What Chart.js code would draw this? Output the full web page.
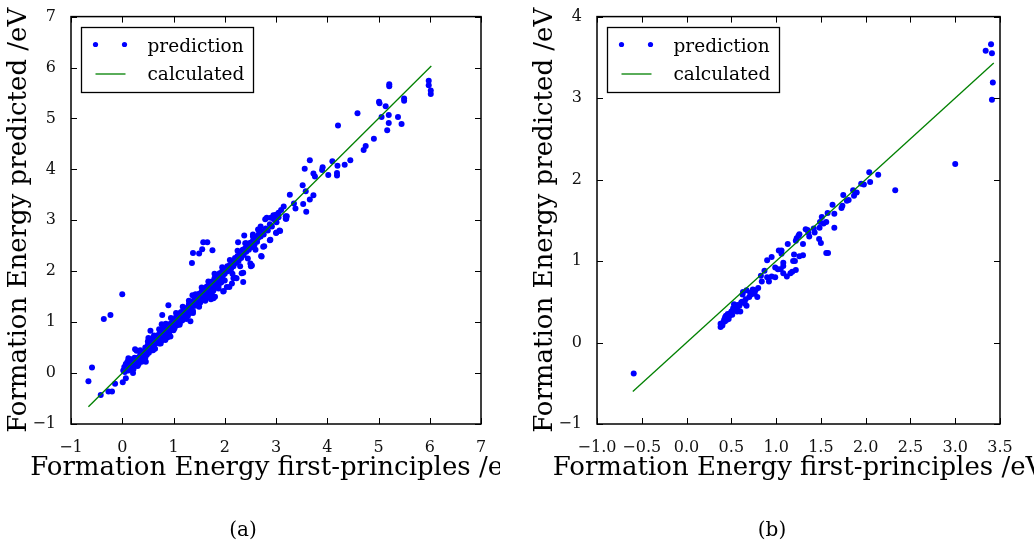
<!DOCTYPE html>
<html>
<head>
<meta charset="utf-8">
<script src="https://cdn.jsdelivr.net/npm/chart.js@4.4.0/dist/chart.umd.min.js"></script>
<style>
  html, body { margin: 0; padding: 0; background: #fff; }
  #wrap { position: relative; width: 1034px; height: 546px; overflow: hidden; }
  canvas { position: absolute; top: 0; }
  #cA { left: 0; width: 500px; height: 546px; }
  #cB { left: 520px; width: 514px; height: 546px; }
  .cap { position: absolute; top: 517px; width: 60px; text-align: center;
         font: 20px "DejaVu Serif", serif; color: #000; }
</style>
</head>
<body>
<div id="wrap">
  <canvas id="cA" width="500" height="546"></canvas>
  <canvas id="cB" width="514" height="546"></canvas>
  <div class="cap" style="left:213px">(a)</div>
  <div class="cap" style="left:742px">(b)</div>
</div>
<script>
const FONT = '"DejaVu Serif", serif';

// (a) first-principles vs predicted, whole set
const xA = [
  0.02, 0.04, 0.05, 0.07, 0.08, 0.10, 0.10, 0.12, 0.13, 0.15,
  0.16, 0.18, 0.20, 0.20, 0.22, 0.24, 0.25, 0.27, 0.28, 0.30,
  0.30, 0.32, 0.35, 0.36, 0.38, 0.40, 0.41, 0.43, 0.45, 0.46,
  0.48, 0.50, 0.50, 0.52, 0.55, 0.56, 0.58, 0.60, 0.60, 0.62,
  0.64, 0.65, 0.67, 0.70, 0.70, 0.72, 0.74, 0.75, 0.77, 0.80,
  0.80, 0.82, 0.84, 0.85, 0.87, 0.90, 0.90, 0.92, 0.94, 0.95,
  0.97, 1.00, 1.00, 1.02, 1.05, 1.05, 1.07, 1.10, 1.10, 1.12,
  1.15, 1.15, 1.17, 1.20, 1.20, 1.22, 1.25, 1.26, 1.28, 1.30,
  1.30, 1.32, 1.35, 1.36, 1.38, 1.40, 1.40, 1.42, 1.45, 1.46,
  1.48, 1.50, 1.50, 1.52, 1.55, 1.56, 1.58, 1.60, 1.61, 1.63,
  1.65, 1.66, 1.68, 1.70, 1.71, 1.73, 1.75, 1.76, 1.78, 1.80,
  1.81, 1.83, 1.85, 1.86, 1.88, 1.90, 1.91, 1.93, 1.95, 1.96,
  2.00, 2.00, 2.05, 2.06, 2.10, 2.12, 2.15, 2.17, 2.20, 2.22,
  2.25, 2.27, 2.30, 2.32, 2.35, 2.37, 2.40, 2.42, 2.45, 2.47,
  2.50, 2.52, 2.55, 2.58, 2.60, 2.63, 2.66, 2.70, 2.73, 2.76,
  2.80, 2.84, 2.88, 2.92, 2.96, 3.00, 3.05, 2.42, 2.55, 2.65,
  2.70, 2.90, 2.95, 3.05, 3.10, 2.38, 2.26, 2.79, 2.82, 3.00,
  3.15, 3.01, 3.21, 1.91, 1.37, 1.13, 0.77, 0.55, 0.51, 0.25,
  0.12, 0.15, 0.29, 2.17, 2.09, 1.78, 1.97, 2.14, 2.33, 2.53,
  2.36, 2.20, 2.72, 2.75, 2.88, 3.01, 3.08, 3.19, 3.19, 1.73,
  1.81, 1.98, 2.04, 2.23, 2.36, 2.50, 2.51, 2.77, 2.71, 2.89,
  3.00, 3.07, 3.20, 3.38, 3.27, 3.35, 3.59, 3.53, 3.66, 3.73,
  3.58, 3.52, 3.56, 3.66, 3.73, 3.76, 3.90, 3.91, 4.02, 4.19,
  4.19, 4.20, 4.10, 4.34, 4.45, 4.71, 4.75, 4.91, 4.21, 4.59,
  5.01, 5.02, 5.21, 5.21, 5.14, 5.06, 5.20, 5.20, 5.17, 5.38,
  5.45, 5.50, 5.50, 5.98, 5.98, 6.02, 6.02, 1.33, 0.90, 0.78,
  1.36, 1.38, 1.50, 1.56, 1.58, 1.66, 1.76, -0.66, -0.59, -0.36,
  -0.23, 0.00, -0.42, -0.27, -0.20, -0.14, 0.01, 0.07, 0.21, 0.46,
  0.35, 0.50, 0.62, 0.72, 0.85, 0.95, 1.05, 1.18, 1.30, 1.43,
  1.55, 1.68, 1.80, 1.95, 2.10, 2.25, 2.40, 2.55, 0.30, 0.45,
  0.60, 0.75, 0.88, 1.00, 1.12, 1.25, 1.38, 1.50, 1.62, 1.75,
  1.88, 2.00, 2.15, 2.30, 2.45, 2.60, 0.60, 1.45, 2.20, 2.65
];
const yA = [
  0.05, 0.12, 0.02, 0.18, 0.08, 0.22, 0.12, 0.05, 0.26, 0.18,
  0.10, 0.27, 0.22, 0.14, 0.08, 0.30, 0.20, 0.15, 0.44, 0.30,
  0.24, 0.18, 0.36, 0.28, 0.22, 0.42, 0.35, 0.28, 0.50, 0.42,
  0.36, 0.55, 0.46, 0.40, 0.60, 0.50, 0.45, 0.70, 0.62, 0.54,
  0.48, 0.68, 0.60, 0.75, 0.66, 0.58, 0.82, 0.71, 0.64, 0.90,
  0.78, 0.70, 0.65, 0.85, 0.78, 0.95, 0.86, 0.80, 0.72, 0.98,
  0.90, 1.05, 0.96, 0.88, 1.10, 1.00, 0.94, 1.15, 1.06, 0.98,
  1.20, 1.10, 1.03, 1.25, 1.16, 1.08, 1.28, 1.20, 1.12, 1.35,
  1.25, 1.18, 1.40, 1.30, 1.22, 1.50, 1.40, 1.32, 1.50, 1.40,
  1.34, 1.56, 1.46, 1.38, 1.60, 1.50, 1.44, 1.66, 1.56, 1.48,
  1.70, 1.60, 1.52, 1.76, 1.66, 1.58, 1.80, 1.70, 1.62, 1.86,
  1.76, 1.68, 1.90, 1.80, 1.72, 1.96, 1.86, 1.78, 2.00, 1.90,
  2.05, 1.95, 2.10, 2.00, 2.12, 2.04, 2.20, 2.10, 2.26, 2.16,
  2.30, 2.20, 2.34, 2.26, 2.42, 2.32, 2.45, 2.38, 2.50, 2.42,
  2.56, 2.47, 2.60, 2.52, 2.66, 2.58, 2.72, 2.68, 2.78, 2.72,
  2.84, 2.80, 2.92, 2.88, 3.02, 3.00, 3.06, 2.55, 2.72, 2.82,
  2.88, 3.05, 3.10, 3.15, 3.20, 2.70, 2.57, 3.02, 3.05, 3.11,
  3.27, 2.96, 3.08, 1.86, 1.53, 1.18, 0.96, 0.83, 0.69, 0.47,
  0.29, 0.11, 0.24, 1.86, 1.69, 1.47, 1.60, 1.76, 1.96, 2.11,
  1.79, 1.87, 2.29, 2.48, 2.61, 2.76, 2.79, 3.03, 3.08, 1.45,
  1.50, 1.61, 1.69, 1.86, 1.97, 2.15, 2.10, 2.49, 2.30, 2.62,
  2.75, 2.80, 3.03, 3.23, 3.50, 3.33, 3.17, 3.32, 3.41, 3.49,
  3.57, 3.69, 4.01, 4.18, 3.92, 3.86, 3.99, 4.04, 3.89, 3.88,
  3.93, 4.07, 4.16, 4.09, 4.18, 4.38, 4.46, 4.60, 4.86, 5.10,
  5.33, 5.30, 5.67, 5.63, 5.24, 5.03, 5.07, 4.91, 4.77, 5.03,
  4.89, 5.39, 5.35, 5.74, 5.65, 5.55, 5.48, 1.02, 1.33, 1.14,
  2.16, 2.36, 2.35, 2.43, 2.57, 2.57, 2.41, -0.16, 0.11, 1.06,
  1.14, 1.55, -0.43, -0.36, -0.36, -0.21, -0.18, -0.10, 0.00, 0.22,
  0.45, 0.62, 0.74, 0.86, 0.97, 1.08, 1.18, 1.30, 1.42, 1.55,
  1.68, 1.80, 1.95, 2.08, 2.22, 2.40, 2.55, 2.68, 0.14, 0.30,
  0.45, 0.58, 0.70, 0.84, 0.95, 1.06, 1.18, 1.30, 1.42, 1.55,
  1.66, 1.82, 1.95, 2.10, 2.25, 2.42, 0.58, 1.45, 2.20, 2.65
];
const fitA = [-0.66, 6.03];

// (b) test set
const xB = [
  -0.59, 3.00, 2.33, 3.34, 3.40, 3.41, 3.42, 3.41, 2.04, 2.05,
  2.14, 1.95, 1.98, 1.90, 1.87, 1.86, 1.81, 1.79, 1.75, 1.74,
  1.73, 1.65, 1.63, 1.65, 1.575, 1.56, 1.53, 1.51, 1.485, 1.49,
  1.48, 1.50, 1.56, 1.58, 1.43, 1.42, 1.37, 1.36, 1.35, 1.33,
  1.26, 1.25, 1.30, 1.23, 1.22, 1.30, 1.26, 1.13, 1.20, 1.21,
  1.19, 1.22, 1.18, 1.16, 1.12, 1.08, 1.08, 1.06, 1.06, 1.03,
  1.05, 1.08, 1.02, 0.99, 0.99, 0.95, 0.90, 0.95, 0.92, 0.90,
  0.87, 0.83, 0.84, 0.80, 0.79, 0.77, 0.74, 0.70, 0.71, 0.67,
  0.63, 0.625, 0.66, 0.67, 0.65, 0.61, 0.60, 0.565, 0.54, 0.53,
  0.50, 0.48, 0.46, 0.43, 0.45, 0.41, 0.39, 0.38, 0.38, 0.40,
  0.43, 0.47, 0.51, 0.565, 0.59, 0.72, 0.76, 0.42, 0.44, 0.49,
  0.52, 0.57, 0.62
];
const yB = [
  -0.38, 2.19, 1.87, 3.58, 3.66, 3.55, 3.19, 2.98, 2.09, 1.97,
  2.06, 1.95, 1.94, 1.84, 1.80, 1.87, 1.75, 1.74, 1.81, 1.68,
  1.65, 1.58, 1.69, 1.41, 1.59, 1.48, 1.46, 1.54, 1.41, 1.48,
  1.27, 1.22, 1.10, 1.10, 1.35, 1.40, 1.30, 1.35, 1.38, 1.39,
  1.33, 1.31, 1.21, 1.28, 1.25, 1.07, 1.06, 1.21, 1.08, 1.00,
  1.00, 0.89, 0.87, 0.85, 0.81, 0.85, 0.98, 1.13, 1.09, 1.13,
  0.90, 0.94, 0.90, 0.92, 0.80, 1.05, 1.01, 0.81, 0.75, 0.80,
  0.88, 0.82, 0.75, 0.67, 0.56, 0.64, 0.65, 0.56, 0.61, 0.64,
  0.62, 0.59, 0.53, 0.45, 0.48, 0.49, 0.38, 0.43, 0.40, 0.47,
  0.38, 0.33, 0.35, 0.31, 0.28, 0.25, 0.22, 0.19, 0.23, 0.21,
  0.26, 0.29, 0.34, 0.38, 0.45, 0.59, 0.60, 0.28, 0.33, 0.36,
  0.42, 0.46, 0.50
];
const fitB = [-0.6, 3.43];

const xTitle = 'Formation Energy first-principles /eV';
const yTitle = 'Formation Energy predicted /eV';

const minus = s => String(s).replace('-', '\u2212');

// frame, inward ticks on all four sides, axis titles and legend box
const decor = {
  id: 'decor',
  afterDatasetsDraw(chart) {
    const { ctx, chartArea: a, scales } = chart;
    ctx.save();
    ctx.strokeStyle = '#000';
    ctx.lineWidth = 1;
    ctx.beginPath();
    scales.x.ticks.forEach(t => {
      const px = Math.round(scales.x.getPixelForValue(t.value)) + 0.5;
      ctx.moveTo(px, a.bottom); ctx.lineTo(px, a.bottom - 6);
      ctx.moveTo(px, a.top); ctx.lineTo(px, a.top + 6);
    });
    scales.y.ticks.forEach(t => {
      const py = Math.round(scales.y.getPixelForValue(t.value)) + 0.5;
      ctx.moveTo(a.left, py); ctx.lineTo(a.left + 6, py);
      ctx.moveTo(a.right, py); ctx.lineTo(a.right - 6, py);
    });
    ctx.stroke();
    ctx.lineWidth = 1.5;
    ctx.strokeRect(a.left, a.top, a.right - a.left, a.bottom - a.top);
    ctx.restore();
  },
  afterDraw(chart) {
    const { ctx, chartArea: a } = chart;
    const fit = chart.data.datasets[0];
    const pred = chart.data.datasets[1];
    ctx.save();

    // legend
    const bx = Math.round(a.left) + 10.5, by = Math.round(a.top) + 10.5;
    ctx.fillStyle = '#fff';
    ctx.fillRect(bx, by, 172, 65);
    ctx.strokeStyle = '#000';
    ctx.lineWidth = 1.3;
    ctx.strokeRect(bx, by, 172, 65);
    ctx.fillStyle = pred.backgroundColor;
    [14, 43].forEach(dx => {
      ctx.beginPath();
      ctx.arc(bx + dx, by + 17, 2.6, 0, Math.PI * 2);
      ctx.fill();
    });
    ctx.strokeStyle = fit.borderColor;
    ctx.lineWidth = fit.borderWidth;
    ctx.beginPath();
    ctx.moveTo(bx + 14, by + 46.5);
    ctx.lineTo(bx + 44, by + 46.5);
    ctx.stroke();
    ctx.fillStyle = '#000';
    ctx.font = '18.5px ' + FONT;
    ctx.textAlign = 'left';
    ctx.textBaseline = 'alphabetic';
    ctx.fillText(pred.label, bx + 66, by + 24);
    ctx.fillText(fit.label, bx + 66, by + 52);

    // axis titles
    ctx.font = '26px ' + FONT;
    ctx.textAlign = 'center';
    ctx.fillText(xTitle, (a.left + a.right) / 2, a.bottom + 51);
    ctx.translate(a.left - 45, (a.top + a.bottom) / 2);
    ctx.rotate(-Math.PI / 2);
    ctx.fillText(yTitle, 0, 0);
    ctx.restore();
  }
};

function makeChart(id, xs, ys, fit, xr, yr, xStep, xDec, axisW, padRight) {
  const pts = xs.map((x, i) => ({ x: x, y: ys[i] }));
  const tickFont = { family: FONT, size: 16 };
  return new Chart(document.getElementById(id), {
    type: 'scatter',
    data: {
      datasets: [
        {
          label: 'calculated',
          data: [{ x: fit[0], y: fit[0] }, { x: fit[1], y: fit[1] }],
          showLine: true,
          borderColor: '#008000',
          borderWidth: 1.3,
          pointRadius: 0,
          order: 0
        },
        {
          label: 'prediction',
          data: pts,
          backgroundColor: '#0000ff',
          pointBackgroundColor: '#0000ff',
          pointBorderWidth: 0,
          pointRadius: 3,
          order: 1
        }
      ]
    },
    options: {
      responsive: false,
      animation: false,
      layout: { padding: { left: 0, top: 12, right: padRight, bottom: 82 } },
      plugins: { legend: { display: false }, tooltip: { enabled: false } },
      scales: {
        x: {
          type: 'linear', min: xr[0], max: xr[1],
          grid: { display: false }, border: { display: false },
          ticks: {
            stepSize: xStep, autoSkip: false, maxRotation: 0, padding: 6,
            color: '#111', font: tickFont,
            callback: v => minus(v.toFixed(xDec))
          },
          afterFit: s => { s.height = 40; }
        },
        y: {
          type: 'linear', min: yr[0], max: yr[1],
          grid: { display: false }, border: { display: false },
          ticks: {
            stepSize: 1, autoSkip: false, padding: 7,
            color: '#111', font: tickFont,
            callback: v => minus(v.toFixed(0))
          },
          afterFit: s => { s.width = axisW; }
        }
      }
    },
    plugins: [decor]
  });
}

makeChart('cA', xA, yA, fitA, [-1, 7], [-1, 7], 1, 0, 71, 19);
makeChart('cB', xB, yB, fitB, [-1, 3.5], [-1, 4], 0.5, 1, 77, 34);
</script>
</body>
</html>
